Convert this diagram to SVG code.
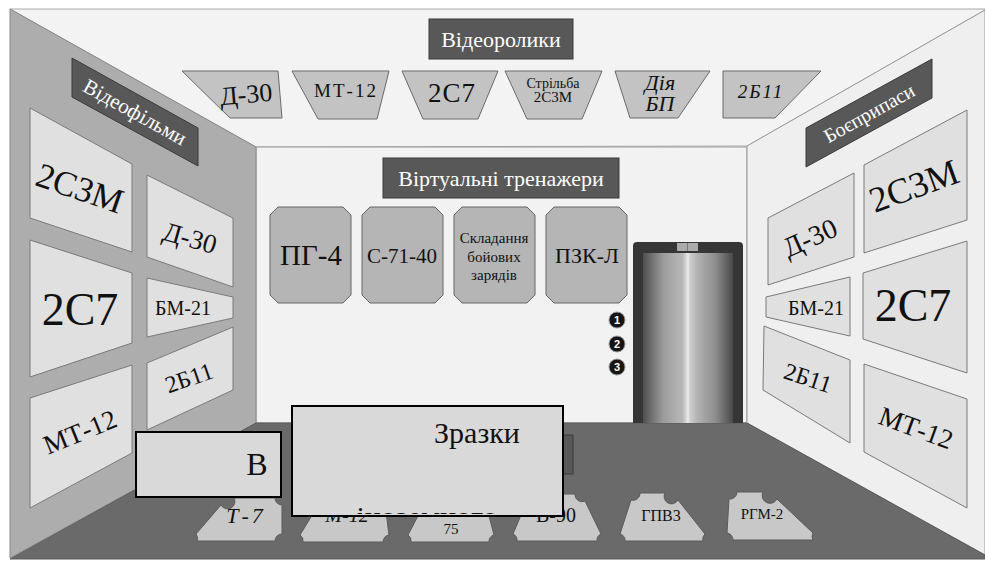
<svg xmlns="http://www.w3.org/2000/svg" width="985" height="561" viewBox="0 0 985 561" font-family="'Liberation Serif', 'Times New Roman', serif">
<style>
text{font-family:'Liberation Serif','Times New Roman',serif;fill:#111}
.wp{fill:#e0e0e0;stroke:#7a7a7a;stroke-width:1}
.cp{fill:#c3c3c3;stroke:#6a6a6a;stroke-width:1}
.tb{fill:#b5b5b5;stroke:#666;stroke-width:1}
.lab{fill:#585858;stroke:#3a3a3a;stroke-width:1}
.lt{fill:#fff;text-anchor:middle}
.m{text-anchor:middle}
.tile{fill:#c8c8c8;stroke:#5a5a5a;stroke-width:1}
.fb{fill:#d9d9d9;stroke:#000;stroke-width:2}
.num{fill:#151515;stroke:#999;stroke-width:1}
text.nt{font-family:'Liberation Sans',Arial,sans-serif;font-weight:bold;font-size:11px;fill:#fff;text-anchor:middle}
</style>
<defs>
<linearGradient id="door" x1="0" y1="0" x2="1" y2="0">
<stop offset="0" stop-color="#4f4f4f"/>
<stop offset="0.22" stop-color="#9a9a9a"/>
<stop offset="0.44" stop-color="#b8b8b8"/>
<stop offset="0.48" stop-color="#d8d8d8"/>
<stop offset="0.5" stop-color="#ececec"/>
<stop offset="0.52" stop-color="#cfcfcf"/>
<stop offset="0.6" stop-color="#b3b3b3"/>
<stop offset="0.8" stop-color="#8e8e8e"/>
<stop offset="1" stop-color="#4a4a4a"/>
</linearGradient>
<clipPath id="zclip"><rect x="293" y="407" width="269" height="107"/></clipPath>
</defs>
<rect width="985" height="561" fill="#fff"/>
<g id="room">
<polygon points="10,9 985,9 985,10 747,146 256,147" fill="#f3f3f3" stroke="#a8a8a8" stroke-width="1"/>
<rect x="256" y="147" width="491" height="276" fill="#f2f2f2" stroke="#9a9a9a" stroke-width="1"/>
<polygon points="10,9 256,147 256,423 10,558" fill="#adadad" stroke="#8a8a8a" stroke-width="1"/>
<polygon points="747,146 985,10 985,555 747,423" fill="#efefef" stroke="#9a9a9a" stroke-width="1"/>
<polygon points="256,423 747,423 985,555 985,559 10,559" fill="#6a6a6a" stroke="#5a5a5a" stroke-width="1"/>
</g>
<g id="label-videofilmy">
<polygon class="lab" points="72,58 198,128 198,166 72,97"/>
<text class="lt" font-size="21" transform="translate(135,112) rotate(29)" dy="7">Відеофільми</text>
</g>
<g id="lw-2s3m"><polygon class="wp" points="30,108 132,164 132,252 30,218"/><text class="m" font-size="35" transform="translate(80,188) rotate(19)" dy="12">2С3М</text></g>
<g id="lw-d30"><polygon class="wp" points="147,175 233,218 233,287 147,257"/><text class="m" font-size="27" transform="translate(190,238) rotate(16)" dy="9">Д-30</text></g>
<g id="lw-2s7"><polygon class="wp" points="30,240 132,273 132,343 30,377"/><text class="m" font-size="46" x="80" y="325">2С7</text></g>
<g id="lw-bm21"><polygon class="wp" points="147,278 233,297 233,318 147,337"/><text class="m" font-size="20" x="183" y="315">БМ-21</text></g>
<g id="lw-2b11"><polygon class="wp" points="147,363 233,327 233,390 147,430"/><text class="m" font-size="24" transform="translate(189,378) rotate(-19)" dy="8">2Б11</text></g>
<g id="lw-mt12"><polygon class="wp" points="30,398 132,365 132,453 30,508"/><text class="m" font-size="27" transform="translate(80,432) rotate(-22)" dy="9">МТ-12</text></g>
<g id="label-videoroliky">
<rect class="lab" x="429" y="19" width="144" height="40"/>
<text class="lt" font-size="22" x="501" y="47">Відеоролики</text>
</g>
<g id="c-d30"><polygon class="cp" points="182,71 278,71 282,118 230,118"/><text class="m" font-size="26" transform="translate(246,94) rotate(-5)" dy="9">Д-30</text></g>
<g id="c-mt12"><polygon class="cp" points="292,71 389,71 377,119 318,119"/><text class="m" font-size="19" letter-spacing="2" x="346" y="97">МТ-12</text></g>
<g id="c-2s7"><polygon class="cp" points="402,71 498,71 478,119 423,119"/><text class="m" font-size="27" letter-spacing="1" x="452" y="102">2С7</text></g>
<g id="c-strilba"><polygon class="cp" points="505,71 602,71 582,119 527,119"/><text class="m" font-size="14" x="553" y="88">Стрільба</text><text class="m" font-size="15" x="553" y="102">2С3М</text></g>
<g id="c-diya"><polygon class="cp" points="615,71 710,71 678,118 630,118"/><text class="m" font-size="22" font-style="italic" x="660" y="90">Дія</text><text class="m" font-size="22" font-style="italic" x="660" y="111">БП</text></g>
<g id="c-2b11"><polygon class="cp" points="723,71 821,71 775,118 723,118"/><text class="m" font-size="19" font-style="italic" letter-spacing="2" x="761" y="98">2Б11</text></g>
<g id="label-trenazhery">
<rect class="lab" x="383" y="158" width="236" height="40"/>
<text class="lt" font-size="22" x="501" y="186">Віртуальні тренажери</text>
</g>
<g id="t-pg4"><polygon class="tb" points="278,207 343,207 351,215 351,295 343,303 278,303 270,295 270,215"/><text class="m" font-size="29" x="311" y="265">ПГ-4</text></g>
<g id="t-s7140"><polygon class="tb" points="370,207 435,207 443,215 443,295 435,303 370,303 362,295 362,215"/><text class="m" font-size="21" x="402" y="263">С-71-40</text></g>
<g id="t-skladannya"><polygon class="tb" points="462,207 527,207 535,215 535,295 527,303 462,303 454,295 454,215"/><text class="m" font-size="15" x="494" y="243">Складання</text><text class="m" font-size="15" x="494" y="262">бойових</text><text class="m" font-size="15" x="494" y="280">зарядів</text></g>
<g id="t-pzkl"><polygon class="tb" points="554,207 619,207 627,215 627,295 619,303 554,303 546,295 546,215"/><text class="m" font-size="22" x="587" y="263">ПЗК-Л</text></g>
<g id="buttons">
<circle class="num" cx="617" cy="320" r="8"/><text class="nt" x="617" y="324">1</text>
<circle class="num" cx="617" cy="344" r="8"/><text class="nt" x="617" y="348">2</text>
<circle class="num" cx="617" cy="367" r="8"/><text class="nt" x="617" y="371">3</text>
</g>
<g id="elevator">
<path d="M633,423 V246 Q633,242 637,242 H739 Q743,242 743,246 V423 Z" fill="#363636"/>
<rect x="643" y="253" width="90" height="170" fill="url(#door)"/>
<rect x="677" y="243" width="21" height="8" fill="#ababab"/>
<line x1="687.5" y1="243" x2="687.5" y2="251" stroke="#777" stroke-width="1"/>
</g>
<g id="label-boyeprypasy">
<polygon class="lab" points="806,128 932,59 932,98 806,167"/>
<text class="lt" font-size="20" transform="translate(869,113) rotate(-29)" dy="7">Боєприпаси</text>
</g>
<g id="rw-2s3m"><polygon class="wp" points="864,165 967,110 967,220 864,253"/><text class="m" font-size="36" transform="translate(914,186) rotate(-20)" dy="12">2С3М</text></g>
<g id="rw-d30"><polygon class="wp" points="768,218 854,173 854,257 768,285"/><text class="m" font-size="28" transform="translate(810,238) rotate(-24)" dy="9">Д-30</text></g>
<g id="rw-bm21"><polygon class="wp" points="766,297 850,277 850,336 766,317"/><text class="m" font-size="20" x="816" y="315">БМ-21</text></g>
<g id="rw-2s7"><polygon class="wp" points="863,273 967,241 967,373 863,339"/><text class="m" font-size="46" x="913" y="321">2С7</text></g>
<g id="rw-2b11"><polygon class="wp" points="764,326 850,360 850,443 763,390"/><text class="m" font-size="24" transform="translate(808,378) rotate(18)" dy="8">2Б11</text></g>
<g id="rw-mt12"><polygon class="wp" points="864,364 967,399 967,508 864,452"/><text class="m" font-size="27" transform="translate(916,428) rotate(20)" dy="9">МТ-12</text></g>
<g id="floor-tiles">
<g id="f-t7"><path class="tile" d="M234,498 H275 A7 7 0 0 0 282,505 L282,534 A7 7 0 0 0 275,541 H197 A7 7 0 0 0 196,534 L221,505 A7 7 0 0 0 234,498 Z"/><text class="m" font-size="22" font-style="italic" letter-spacing="3" x="246" y="523">Т-7</text></g>
<g id="f-m12"><path class="tile" d="M325,505 H378 A7 7 0 0 0 386,512 L389,535 A7 7 0 0 0 383,542 H303 A7 7 0 0 0 300,535 L314,512 A7 7 0 0 0 325,505 Z"/><text class="m" font-size="20" font-style="italic" x="347" y="522">М-12</text></g>
<g id="f-75"><path class="tile" d="M431,505 H479 A7 7 0 0 0 488,512 L494,535 A7 7 0 0 0 489,542 H411 A7 7 0 0 0 408,535 L420,512 A7 7 0 0 0 431,505 Z"/><text class="m" font-size="15" x="451" y="534">75</text></g>
<g id="f-v90"><path class="tile" d="M537,494 H575 A7 7 0 0 0 585,501 L601,534 A7 7 0 0 0 597,541 H517 A7 7 0 0 0 513,534 L527,501 A7 7 0 0 0 537,494 Z"/><text class="m" font-size="20" x="556" y="522">В-90</text></g>
<g id="f-gpv3"><path class="tile" d="M640,493 H665 A7 7 0 0 0 678,500 L705,534 A7 7 0 0 0 703,541 H625 A7 7 0 0 0 620,534 L631,500 A7 7 0 0 0 640,493 Z"/><text class="m" font-size="16" x="661" y="521">ГПВ3</text></g>
<g id="f-rgm2"><path class="tile" d="M737,492 H763 A7 7 0 0 0 777,499 L813,533 A7 7 0 0 0 813,540 H733 A7 7 0 0 0 727,533 L729,499 A7 7 0 0 0 737,492 Z"/><text class="m" font-size="15" x="762" y="519">РГМ-2</text></g>
</g>
<g id="dark-label-floor"><rect class="lab" x="430" y="435" width="143" height="39"/></g>
<g id="box-v">
<rect class="fb" x="136" y="432" width="145" height="65"/>
<text class="m" font-size="32" x="257" y="475">В</text>
</g>
<g id="box-zrazky">
<rect class="fb" x="292" y="406" width="271" height="110"/>
<text class="m" font-size="30" x="477" y="443">Зразки</text>
<g clip-path="url(#zclip)"><text class="m" font-size="30" x="427" y="527">іноземного</text></g>
</g>
</svg>
